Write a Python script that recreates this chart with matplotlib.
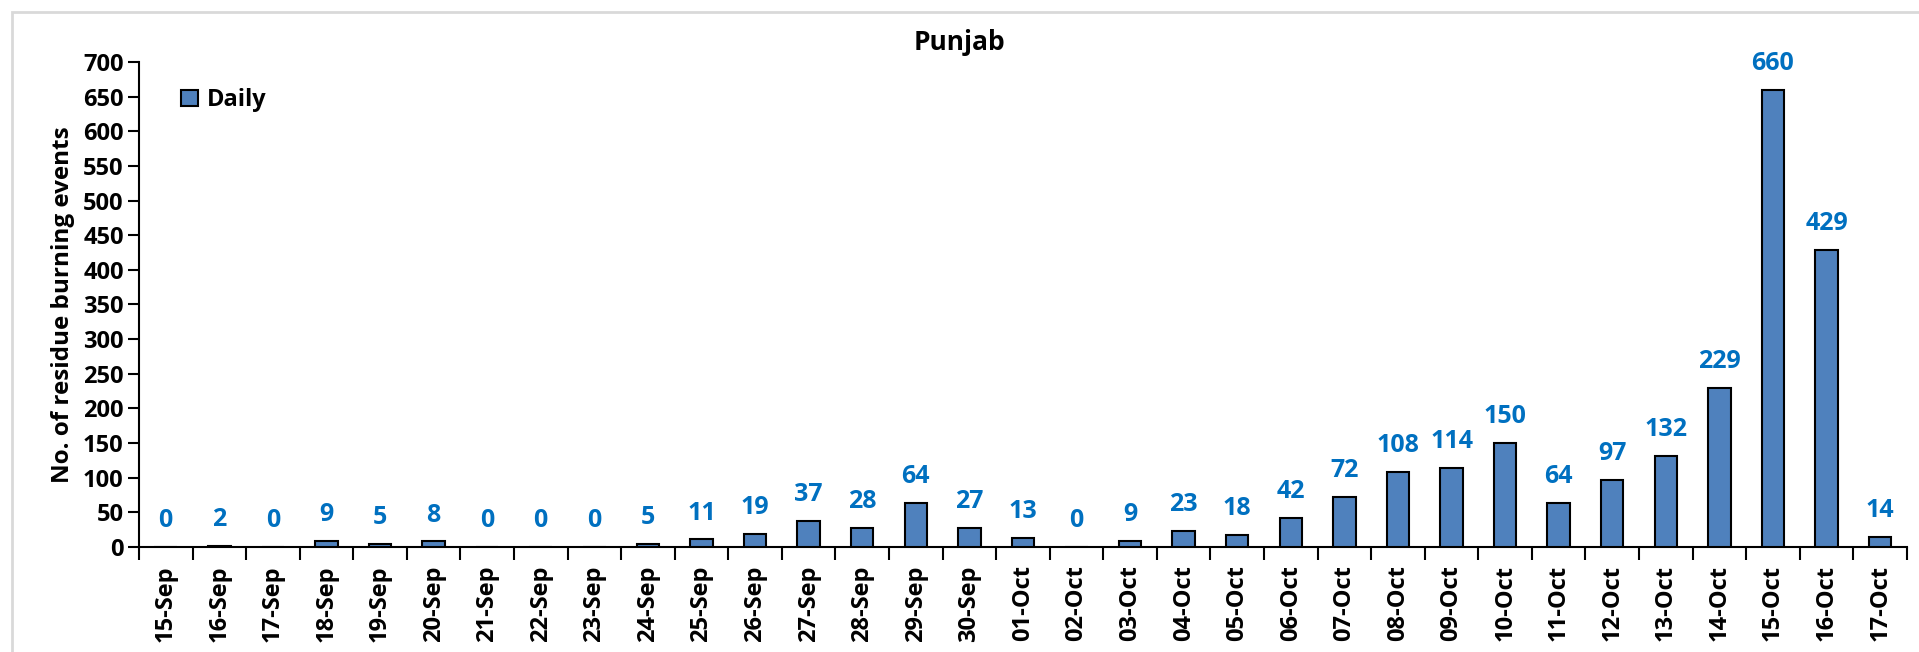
import matplotlib.pyplot as plt
import matplotlib.patches as patches
import numpy as np

# dates and daily counts
dates = ['15-Sep', '16-Sep', '17-Sep', '18-Sep', '19-Sep', '20-Sep', '21-Sep',
         '22-Sep', '23-Sep', '24-Sep', '25-Sep', '26-Sep', '27-Sep', '28-Sep',
         '29-Sep', '30-Sep', '01-Oct', '02-Oct', '03-Oct', '04-Oct', '05-Oct',
         '06-Oct', '07-Oct', '08-Oct', '09-Oct', '10-Oct', '11-Oct', '12-Oct',
         '13-Oct', '14-Oct', '15-Oct', '16-Oct', '17-Oct']
daily = [0, 2, 0, 9, 5, 8, 0, 0, 0, 5, 11, 19, 37, 28, 64, 27, 13, 0, 9, 23,
         18, 42, 72, 108, 114, 150, 64, 97, 132, 229, 660, 429, 14]
y_ticks = list(range(0, 701, 50))

plt.rcParams['font.family'] = ['Open Sans', 'DejaVu Sans']
plt.rcParams['font.weight'] = 'bold'

fig = plt.figure(figsize=(19.19, 6.52), dpi=100)
ax = fig.add_axes([0.0724, 0.161, 0.9213, 0.744])

# light grey chart border
fig.patches.append(patches.Rectangle((12 / 1919, -0.1), 1.2, 1 - 12 / 652 + 0.1,
                                     transform=fig.transFigure, fill=False,
                                     edgecolor='#d9d9d9', linewidth=2))

x = np.arange(len(dates))
ax.bar(x, daily, width=0.42, color='#4F81BD', edgecolor='black',
       linewidth=1.5, label='Daily', zorder=3)

for xi, v in zip(x, daily):
    ax.annotate(str(v), (xi, v), xytext=(0, 10), textcoords='offset points',
                ha='center', va='bottom', color='#0070C0',
                fontsize=18, fontweight='bold')

ax.set_xlim(-0.5, len(dates) - 0.5)
ax.set_ylim(0, 700)
ax.set_yticks(y_ticks)
ax.set_yticklabels([str(t) for t in y_ticks], fontsize=17, fontweight='bold')

ax.set_xticks(x)
ax.set_xticklabels(dates, rotation=90, fontsize=17, fontweight='bold')
ax.tick_params(axis='x', which='major', length=0, pad=13)
ax.set_xticks(np.arange(-0.5, len(dates), 1), minor=True)
ax.tick_params(axis='x', which='minor', length=9, width=1.5, direction='out')
ax.tick_params(axis='y', length=8, width=1.5, direction='out', pad=3)

for s in ['top', 'right']:
    ax.spines[s].set_visible(False)
for s in ['left', 'bottom']:
    ax.spines[s].set_linewidth(1.5)

ax.set_ylabel('No. of residue burning events', fontsize=17.5,
              fontweight='bold', labelpad=6)
fig.text(0.5, 0.935, 'Punjab', ha='center', va='center', fontsize=19,
         fontweight='bold')

ax.legend(loc='upper left', bbox_to_anchor=(0.012, 0.99), frameon=False,
          prop={'size': 17, 'weight': 'bold'}, handlelength=0.7,
          handleheight=0.7, handletextpad=0.4)

plt.savefig('out.png', dpi=100)
